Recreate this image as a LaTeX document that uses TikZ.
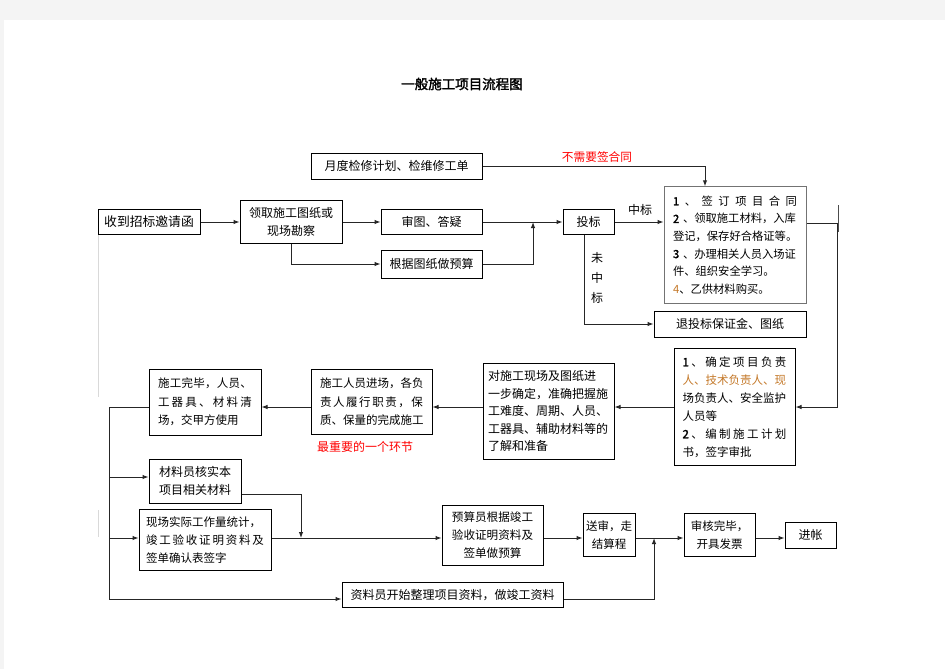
\documentclass[tikz,border=0pt]{standalone}
\usepackage{fontspec}
\setmainfont{Noto Sans CJK SC}
\newfontfamily\titlefont[FakeBold=2]{Noto Sans CJK SC}
\usetikzlibrary{arrows.meta}
\definecolor{pagegray}{RGB}{244,244,244}
\definecolor{ochre}{RGB}{196,120,40}
\newcommand\spreadline[1]{\makebox[\hsize][s]{\spaceskip=0pt plus 1fil\xspaceskip=0pt plus 1fil #1}}
\newcommand\num[1]{{\titlefont #1}}
\tikzset{
box/.style={draw,line width=1pt,inner sep=3pt,font=\fontsize{12}{18}\selectfont},
flow/.style={line width=1pt,black!85,-{Latex[length=6pt,width=4.5pt]}},
link/.style={line width=1pt,black!85}
}

\begin{document}
\begin{tikzpicture}[x=1pt,y=-1pt]
\useasboundingbox (0,0) rectangle (945,669);
\fill [pagegray] (0,0) rectangle (945,669);
\fill [white] (4,20) rectangle (945,669);
\draw [black!15] (98,232) -- (98,397);
\draw [black!15] (98,510) -- (98,537);

\node [font=\titlefont\fontsize{13.5}{15}\selectfont] (title) at (462,84) {一般施工项目流程图};

\node [box, minimum width=171pt, minimum height=26pt] (plan) at (396.5,166) {月度检修计划、检维修工单};
\node [box, minimum width=102pt, minimum height=25pt, font=\fontsize{12.8}{18}\selectfont] (invite) at (149,222) {收到招标邀请函};
\node [box, minimum width=102pt, minimum height=43pt, align=center] (survey) at (291,222) {领取施工图纸或\\现场勘察};
\node [box, minimum width=101pt, minimum height=25pt] (review) at (431.5,222) {审图、答疑};
\node [box, minimum width=101pt, minimum height=28pt] (budget) at (431.5,264) {根据图纸做预算};
\node [box, minimum width=51pt, minimum height=25pt] (bid) at (588.5,222) {投标};
\node [box, draw=black!55, text width=124pt, inner sep=9pt, minimum height=114pt, align=left, font=\fontsize{11.3}{17.6}\selectfont] (contract) at (735,245)
{\spreadline{\num{1} 、 签 订 项 目 合 同}\\\num{2} 、领取施工材料，入库\\登记，保存好合格证等。\\\num{3} 、办理相关人员入场证\\件、组织安全学习。\\{\color{ochre}4}、乙供材料购买。};
\node [box, minimum width=152pt, minimum height=26pt] (refund) at (730,324) {退投标保证金、图纸};

\node [box, text width=104pt, inner sep=8.5pt, minimum height=113pt, align=left, font=\fontsize{11.5}{18}\selectfont] (assign) at (734.5,407)
{\spreadline{\num{1} 、 确 定 项 目 负 责}\\{\color{ochre}人、技术负责人、现}\\场负责人、安全监护\\人员等\\\spreadline{\num{2} 、 编 制 施 工 计 划}\\书，签字审批};
\node [box, text width=121pt, inner sep=5pt, minimum height=96pt, align=left, font=\fontsize{12}{17.5}\selectfont] (prepare) at (548.5,411)
{对施工现场及图纸进\\一步确定，准确把握施\\工难度、周期、人员、\\工器具、辅助材料等的\\了解和准备};
\node [box, text width=103pt, inner sep=9pt, minimum height=60pt, align=left, font=\fontsize{11.5}{18.5}\selectfont] (enter) at (371.5,402)
{\spreadline{施 工 人 员 进 场 ， 各 负}\\\spreadline{责 人 履 行 职 责 ， 保}\\\spreadline{质 、 保 量 的 完 成 施 工}};
\node [box, text width=94pt, inner sep=9pt, minimum height=60pt, align=left, font=\fontsize{11.5}{18.5}\selectfont] (finish) at (205,402)
{\spreadline{施 工 完 毕 ， 人 员 、}\\\spreadline{工 器 具 、 材 料 清}\\场，交甲方使用};

\node [box, minimum width=92pt, minimum height=44pt, align=center] (material) at (195,481) {材料员核实本\\项目相关材料};
\node [box, text width=118pt, inner sep=7pt, minimum height=61pt, align=left, font=\fontsize{11.5}{18}\selectfont] (quantity) at (205,540)
{现场实际工作量统计，\\\spreadline{竣 工 验 收 证 明 资 料 及}\\签单确认表签字};
\node [box, minimum width=101pt, minimum height=60pt, align=center, font=\fontsize{11.6}{18}\selectfont] (settle) at (492.5,535) {预算员根据竣工\\验收证明资料及\\签单做预算};
\node [box, minimum width=52pt, minimum height=43pt, align=center, font=\fontsize{11.5}{18}\selectfont] (submit) at (609,535) {送审，走\\结算程};
\node [box, minimum width=71pt, minimum height=43pt, align=center, font=\fontsize{11.5}{18}\selectfont] (audit) at (719.5,535) {审核完毕，\\开具发票};
\node [box, minimum width=51pt, minimum height=26pt] (account) at (810.5,535) {进帐};
\node [box, minimum width=221pt, minimum height=25pt] (archive) at (452.5,595) {资料员开始整理项目资料，做竣工资料};

\node [red, font=\fontsize{11.7}{14}\selectfont] (nocontract) at (597,157) {不需要签合同};
\node [font=\fontsize{12}{14}\selectfont] (win) at (640,210) {中标};
\node [align=center, font=\fontsize{12}{20}\selectfont] (lose) at (597,278) {未\\中\\标};
\node [red, font=\fontsize{12}{14}\selectfont] (key) at (365,447) {最重要的一个环节};

\coordinate (bidjoin) at (533,222);
\coordinate (rightbend) at (837,300);
\coordinate (leftrail) at (109,599);
\coordinate (row) at (0,407);
\coordinate (lowrow) at (0,538);
\coordinate (matjoin) at (301,538);
\coordinate (archjoin) at (654,538);

\draw [flow] (invite.east) -- (survey.west);
\draw [flow] (survey.east) -- (review.west);
\draw [flow] (survey.south) |- (budget.west);
\draw [flow] (review.east) -- (bid.west);
\draw [flow] (budget.east) -| (bidjoin);
\draw [flow] (plan.east) -| ([xshift=-30pt]contract.north);
\draw [flow] (bid.east) -- (bid.east -| contract.west);
\draw [flow] ([xshift=-4pt]bid.south) |- (refund.west);
\draw [flow] ([yshift=22pt]contract.east) -| (rightbend) |- (assign.east);
\draw [link, black!70] (838,205) -- (838,232);
\draw [flow] (assign.west |- row) -- (prepare.east |- row);
\draw [flow] (prepare.west |- row) -- (enter.east |- row);
\draw [flow] (enter.west |- row) -- (finish.east |- row);
\draw [link] (finish.west |- row) -| (leftrail);
\draw [flow] (leftrail |- 0,477) -- (material.west |- 0,477);
\draw [flow] (leftrail |- lowrow) -- (quantity.west |- lowrow);
\draw [flow] (leftrail) -- (archive.west |- leftrail);
\draw [flow] ([yshift=-13pt]material.east) -| (matjoin);
\draw [flow] (quantity.east |- lowrow) -- (settle.west |- lowrow);
\draw [flow] (settle.east |- lowrow) -- (submit.west |- lowrow);
\draw [flow] (submit.east |- lowrow) -- (audit.west |- lowrow);
\draw [flow] (audit.east |- lowrow) -- (account.west |- lowrow);
\draw [flow] (archive.east |- leftrail) -| (archjoin);
\end{tikzpicture}
\end{document}
